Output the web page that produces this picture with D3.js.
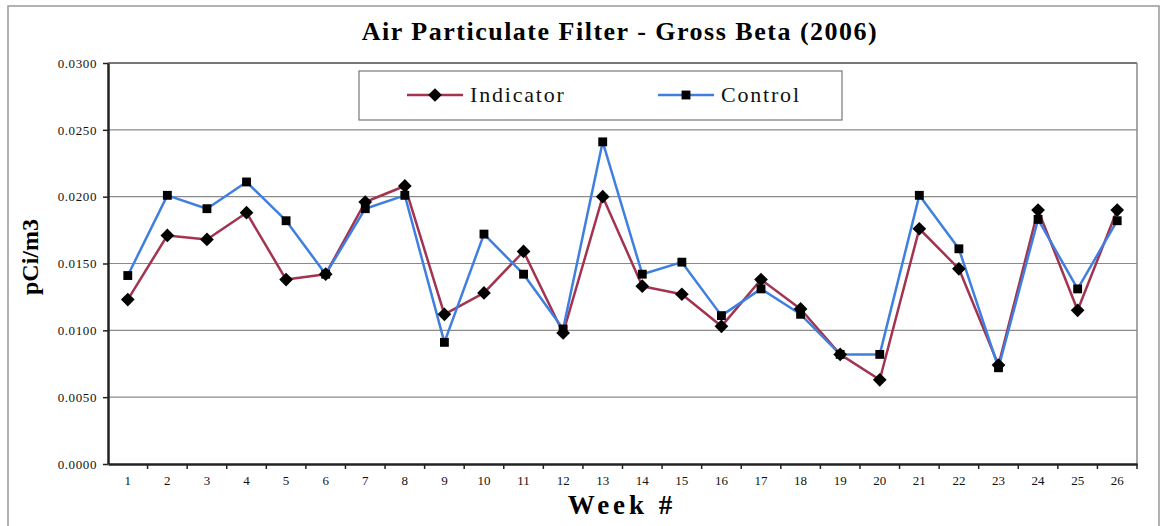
<!DOCTYPE html>
<html>
<head>
<meta charset="utf-8">
<script src="https://cdn.jsdelivr.net/npm/d3@7"></script>
<style>
  body { margin: 0; background: #fff; }
  svg { display: block; }
  svg text { font-family: "Liberation Serif", "DejaVu Serif", serif; }
</style>
</head>
<body>
<svg id="chart"></svg>
<script>
// ----- data -----
const weeks = d3.range(1, 27).map(String);
const indicator = [0.0123, 0.0171, 0.0168, 0.0188, 0.0138, 0.0142, 0.0196, 0.0208, 0.0112, 0.0128,
                   0.0159, 0.0098, 0.0200, 0.0133, 0.0127, 0.0103, 0.0138, 0.0116, 0.0082, 0.0063,
                   0.0176, 0.0146, 0.0074, 0.0190, 0.0115, 0.0190];
const control   = [0.0141, 0.0201, 0.0191, 0.0211, 0.0182, 0.0142, 0.0191, 0.0201, 0.0091, 0.0172,
                   0.0142, 0.0101, 0.0241, 0.0142, 0.0151, 0.0111, 0.0131, 0.0112, 0.0082, 0.0082,
                   0.0201, 0.0161, 0.0072, 0.0183, 0.0131, 0.0182];
const yTicks = [0, 0.005, 0.01, 0.015, 0.02, 0.025, 0.03];

const width = 1164, height = 526;
const plot = { left: 108, top: 63, right: 1137, bottom: 464 };
const serif = "Liberation Serif";

const svg = d3.select("#chart").attr("width", width).attr("height", height);

// outer chart border
svg.append("rect")
  .attr("x", 8).attr("y", 6).attr("width", 1151).attr("height", 530)
  .attr("fill", "#fff").attr("stroke", "#999").attr("stroke-width", 1.5);

// scales
const x = d3.scaleBand().domain(weeks).range([plot.left, plot.right]).padding(0);
const y = d3.scaleLinear().domain([0, 0.03]).range([plot.bottom, plot.top]);

// grid lines
svg.append("g").selectAll("line")
  .data(yTicks.filter(d => d > 0))
  .join("line")
  .attr("x1", plot.left).attr("x2", plot.right)
  .attr("y1", d => y(d)).attr("y2", d => y(d))
  .attr("stroke", d => d === 0.03 ? "#777" : "#8a8a8a")
  .attr("stroke-width", d => d === 0.03 ? 2 : 1.2);

// right plot border
svg.append("line")
  .attr("x1", plot.right).attr("x2", plot.right)
  .attr("y1", plot.top).attr("y2", plot.bottom)
  .attr("stroke", "#8a8a8a").attr("stroke-width", 1.5);

// y axis
const yAxis = svg.append("g")
  .attr("transform", "translate(" + plot.left + ",0)")
  .call(d3.axisLeft(y).tickValues(yTicks).tickFormat(d3.format(".4f")).tickSize(5).tickPadding(6).tickSizeOuter(0));
yAxis.select(".domain").attr("stroke", "#222").attr("stroke-width", 2.5);
yAxis.selectAll(".tick line").attr("stroke", "#222").attr("stroke-width", 1.5);
yAxis.selectAll("text").attr("font-size", 13).attr("font-family", serif)
  .attr("fill", "#111").attr("letter-spacing", 0.6);

// x axis
const xAxis = svg.append("g")
  .attr("transform", "translate(0," + plot.bottom + ")")
  .call(d3.axisBottom(x).tickSize(0).tickPadding(12).tickSizeOuter(0));
xAxis.select(".domain").attr("stroke", "#222").attr("stroke-width", 2.5);
xAxis.selectAll("text").attr("font-size", 13).attr("font-family", serif).attr("fill", "#111");

// x tick marks between categories
svg.append("g").selectAll("line")
  .data(weeks)
  .join("line")
  .attr("x1", d => x(d) + x.step()).attr("x2", d => x(d) + x.step())
  .attr("y1", plot.bottom).attr("y2", plot.bottom + 5)
  .attr("stroke", "#222").attr("stroke-width", 1.5);

// series
const series = [
  { name: "Indicator", values: indicator, color: "#a3334f", symbol: d3.symbolDiamond2, size: 120 },
  { name: "Control",   values: control,   color: "#3f7fe0", symbol: d3.symbolSquare2,  size: 100 }
];
const cx = i => x(weeks[i]) + x.bandwidth() / 2;
const line = d3.line().x((d, i) => cx(i)).y(d => y(d));

series.forEach(s => {
  svg.append("path")
    .datum(s.values)
    .attr("d", line)
    .attr("fill", "none")
    .attr("stroke", s.color)
    .attr("stroke-width", 2.5)
    .attr("stroke-linejoin", "round");
});

series.forEach(s => {
  svg.append("g").selectAll("path")
    .data(s.values)
    .join("path")
    .attr("d", d3.symbol(s.symbol, s.size))
    .attr("transform", (d, i) => "translate(" + cx(i) + "," + y(d) + ")")
    .attr("fill", "#000");
});

// legend
const legend = svg.append("g");
legend.append("rect")
  .attr("x", 359).attr("y", 71).attr("width", 483).attr("height", 49)
  .attr("fill", "#fff").attr("stroke", "#777").attr("stroke-width", 1.2);
const legendX = [407, 658];
series.forEach((s, i) => {
  const g = legend.append("g").attr("transform", "translate(" + legendX[i] + ",95)");
  g.append("line").attr("x1", 0).attr("x2", 56).attr("stroke", s.color).attr("stroke-width", 2.5);
  g.append("path").attr("d", d3.symbol(s.symbol, s.size)).attr("transform", "translate(28,0)").attr("fill", "#000");
  g.append("text").attr("x", 63).attr("y", 7).attr("font-size", 22).attr("letter-spacing", 1.8)
    .attr("font-family", serif).attr("fill", "#111").text(s.name);
});

// title
svg.append("text")
  .attr("x", 620).attr("y", 40)
  .attr("text-anchor", "middle")
  .attr("font-family", serif)
  .attr("font-size", 26).attr("font-weight", "bold").attr("letter-spacing", 1.5)
  .text("Air Particulate Filter - Gross Beta (2006)");

// axis titles
svg.append("text")
  .attr("transform", "translate(38,257) rotate(-90)")
  .attr("text-anchor", "middle")
  .attr("font-family", serif)
  .attr("font-size", 24).attr("font-weight", "bold")
  .text("pCi/m3");

svg.append("text")
  .attr("x", 622).attr("y", 514)
  .attr("text-anchor", "middle")
  .attr("font-family", serif)
  .attr("font-size", 27).attr("font-weight", "bold").attr("letter-spacing", 4)
  .text("Week #");
</script>
</body>
</html>
